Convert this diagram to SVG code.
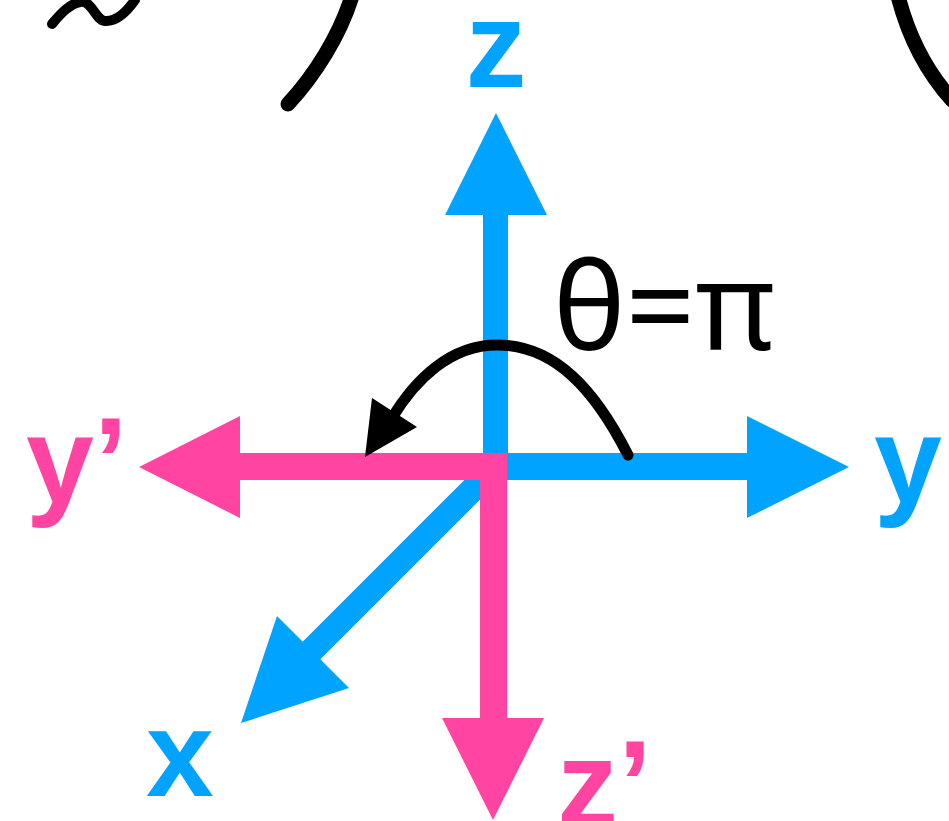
<svg xmlns="http://www.w3.org/2000/svg" width="949" height="821" viewBox="0 0 949 821">
<style>
.blue{fill:#00A3FF}
.pink{fill:#FF45A1}
.lbl{font-family:"Liberation Sans",Arial,sans-serif;font-weight:bold;font-size:122px}
.ink{fill:none;stroke:#000;stroke-linecap:round}
</style>
<rect width="949" height="821" fill="#fff"/>
<g id="fragments">
<path class="ink" d="M52,24 C62,12 70,4 80,2 C92,0 95,20 105,21 C118,22 128,10 135,0" stroke-width="10"/>
<path class="ink" d="M352,-4 C340,35 315,75 288,104" stroke-width="15" stroke-linecap="butt"/>
<path class="ink" d="M898,-4 C908,35 925,70 952,100" stroke-width="15" stroke-linecap="butt"/>
</g>
<g id="axis-x">
<line x1="495" y1="467" x2="310" y2="652" stroke="#00A3FF" stroke-width="25"/>
<polygon class="blue" points="241,723 277,616 349,688"/>
</g>
<g id="axis-z">
<rect class="blue" x="483" y="210" width="25" height="270"/>
<polygon class="blue" points="496,113 445,215 547,215"/>
</g>
<g id="axis-y">
<rect class="blue" x="495" y="453" width="257" height="27"/>
<polygon class="blue" points="849,467 747,416 747,518"/>
</g>
<g id="axis-yprime-zprime">
<path class="pink" d="M235,453 L507,453 L507,722 L480,722 L480,480 L235,480 Z"/>
<polygon class="pink" points="139,467 240,416 240,518"/>
<polygon class="pink" points="493,820 442,718 544,718"/>
</g>
<g id="rotation">
<path class="ink" d="M628,455 C595,390 555,345 497,345 C450,345 415,380 392,418" stroke-width="11" stroke-linecap="butt"/>
<polygon points="365,457 372,398 417,427" fill="#000"/>
<text x="553" y="350" font-family="'Noto Sans',sans-serif" font-size="122" fill="#000">θ=π</text>
</g>
<g id="labels">
<text class="lbl blue" x="496" y="87" text-anchor="middle">z</text>
<text class="lbl blue" x="908" y="503" text-anchor="middle">y</text>
<text class="lbl pink" x="26" y="503">y’</text>
<text class="lbl blue" x="180" y="796" text-anchor="middle">x</text>
<text class="lbl pink" x="557" y="826">z’</text>
</g>
</svg>
